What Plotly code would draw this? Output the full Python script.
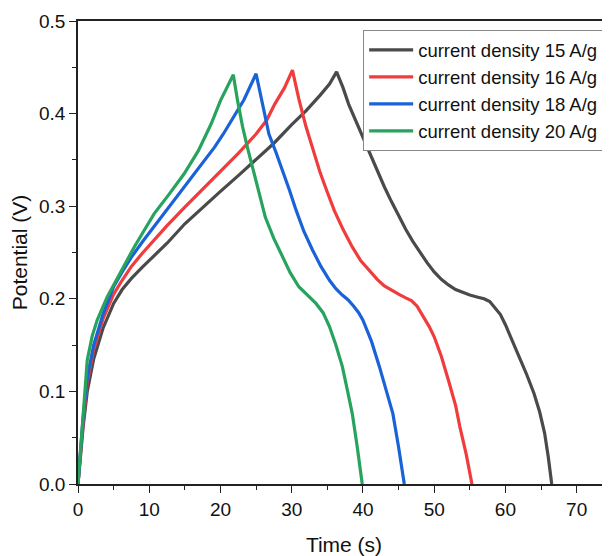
import plotly.graph_objects as go

# ---- data ----
t15 = [0, 0.7, 1.3, 2.2, 3.5, 5, 6.2, 7.5, 9, 10.5, 12.5, 15, 17.5, 20, 22.5, 25, 27.5, 30, 32, 34, 35.3, 36.3,
       37.2, 38, 39, 40, 41, 42, 43, 44, 45, 46, 47, 48, 49, 50, 51, 52, 53, 54, 55, 56, 57, 57.8, 58.5, 59.3,
       60, 61, 62, 63, 64, 64.8, 65.5, 66, 66.5]
v15 = [0, 0.06, 0.1, 0.135, 0.168, 0.195, 0.21, 0.222, 0.234, 0.245, 0.26, 0.281, 0.299, 0.316, 0.333, 0.350,
       0.368, 0.388, 0.403, 0.42, 0.432, 0.445,
       0.428, 0.41, 0.392, 0.375, 0.356, 0.338, 0.321, 0.305, 0.29, 0.275, 0.262, 0.25, 0.239, 0.229, 0.221,
       0.215, 0.21, 0.207, 0.204, 0.202, 0.2, 0.197, 0.191, 0.183,
       0.172, 0.155, 0.136, 0.118, 0.098, 0.078, 0.055, 0.03, 0]

t16 = [0, 0.7, 1.3, 2.2, 3.5, 5, 6.2, 7.5, 9, 10.5, 12.5, 15, 17.5, 20, 22.5, 25, 26.5, 27.6, 29, 30.1,
       31, 32, 33, 34, 35, 36, 37.2, 38.5, 39.7, 41, 42, 43, 44, 45, 46, 46.8, 47.6, 48.5, 49.3, 50, 51,
       52, 53, 53.6, 54.5, 55.3]
v16 = [0, 0.065, 0.11, 0.145, 0.178, 0.205, 0.22, 0.235, 0.249, 0.262, 0.279, 0.299, 0.318, 0.338, 0.357, 0.378,
       0.393, 0.41, 0.428, 0.447,
       0.416, 0.386, 0.36, 0.336, 0.315, 0.295, 0.275, 0.256, 0.241, 0.229, 0.221, 0.214, 0.209, 0.205, 0.201,
       0.198, 0.192, 0.181, 0.17, 0.159, 0.138, 0.112, 0.085, 0.062, 0.032, 0]

t18 = [0, 0.7, 1.3, 2.2, 3.5, 5, 6.2, 7.5, 9, 10.7, 12.8, 15, 17, 19.2, 20.4, 21.5, 23.3, 25,
       25.9, 26.8, 27.8, 28.7, 29.7, 30.6, 31.7, 32.9, 34.1, 35.3, 36.2, 37.1, 37.9, 38.7, 39.4, 40, 41.2,
       42.3, 43.3, 44.2, 45, 45.8]
v18 = [0, 0.07, 0.115, 0.15, 0.183, 0.213, 0.229, 0.245, 0.261, 0.278, 0.299, 0.321, 0.342, 0.364, 0.378, 0.392,
       0.415, 0.443,
       0.41, 0.378, 0.358, 0.339, 0.317, 0.296, 0.273, 0.253, 0.235, 0.220, 0.211, 0.204, 0.199, 0.192, 0.185,
       0.177, 0.154, 0.127, 0.101, 0.076, 0.04, 0]

t20 = [0, 0.7, 1.3, 2, 2.7, 4.1, 5.5, 6.7, 7.9, 9.3, 10.7, 12.8, 14.9, 16.9, 18.7, 20, 21.8,
       22.4, 23.1, 23.8, 24.5, 25.4, 26.3, 27.5, 28.7, 29.8, 31, 32.2, 33.4, 34.4, 35.3, 36.2, 37.1, 37.8,
       38.5, 39.2, 39.9]
v20 = [0, 0.075, 0.134, 0.16, 0.177, 0.202, 0.222, 0.239, 0.256, 0.274, 0.292, 0.313, 0.335, 0.36, 0.389, 0.414,
       0.442,
       0.414, 0.386, 0.363, 0.342, 0.315, 0.288, 0.265, 0.245, 0.228, 0.213, 0.204, 0.195, 0.185, 0.170, 0.15,
       0.127, 0.102, 0.076, 0.04, 0]

names = ["current density 15 A/g", "current density 16 A/g",
         "current density 18 A/g", "current density 20 A/g"]
colors = ["#4a4a4a", "#f03c3c", "#1a62d8", "#27a35e"]
series = [(t15, v15), (t16, v16), (t18, v18), (t20, v20)]

fig = go.Figure()
for (tx, vy), nm, c in zip(series, names, colors):
    fig.add_trace(go.Scatter(x=tx, y=vy, mode="lines", name=nm,
                             line=dict(color=c, width=3.2)))

font = "Liberation Sans, Arial, sans-serif"
# page body has an 8px margin, so the figure is 8px smaller and shifted
fig.update_layout(
    width=602, height=548,
    margin=dict(l=70, r=0, t=13, b=72),
    paper_bgcolor="white", plot_bgcolor="white",
    font=dict(family=font, size=18.5, color="#111"),
    showlegend=True,
    legend=dict(x=0.536, y=0.98, xanchor="left", yanchor="top",
                bordercolor="#888", borderwidth=1, bgcolor="white",
                font=dict(size=18.5, color="#111"), tracegroupgap=0,
                itemwidth=44),
    xaxis=dict(range=[0, 74.68], dtick=10, tick0=0, automargin=False,
               showline=True, linecolor="#222", linewidth=1.5, mirror=True,
               ticks="outside", ticklen=7, tickwidth=1.3, tickcolor="#222",
               minor=dict(dtick=5, ticks="outside", ticklen=4, tickcolor="#222", tickwidth=1.3),
               showgrid=False, zeroline=False,
               title=dict(text="Time (s)", font=dict(size=21), standoff=19),
               tickfont=dict(size=19)),
    yaxis=dict(range=[0, 0.5], dtick=0.1, tick0=0, tickformat=".1f", automargin=False,
               showline=True, linecolor="#222", linewidth=1.5, mirror=False,
               ticks="outside", ticklen=7, tickwidth=1.3, tickcolor="#222",
               minor=dict(dtick=0.05, ticks="outside", ticklen=4, tickcolor="#222", tickwidth=1.3),
               showgrid=False, zeroline=False,
               title=dict(text="Potential (V)", font=dict(size=21), standoff=6),
               tickfont=dict(size=19)),
)

fig.write_html("out.html")
